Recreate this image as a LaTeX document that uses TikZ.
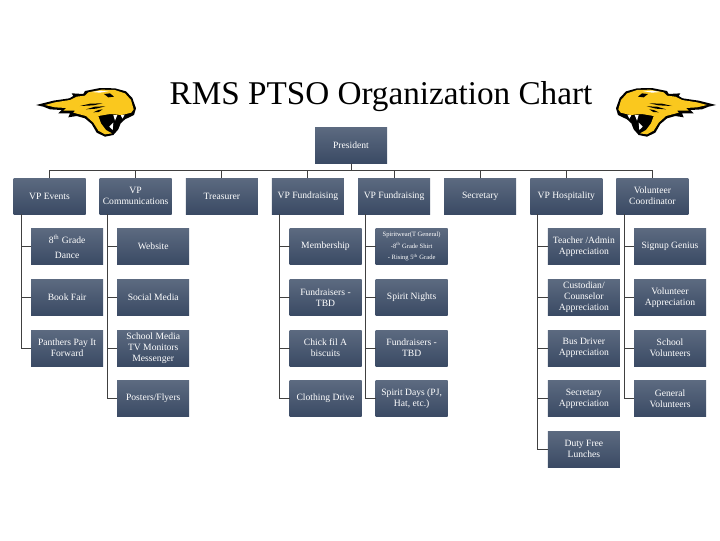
\documentclass[tikz,border=0pt]{standalone}
\usepackage{fontspec}
\setmainfont{Liberation Serif}
\usetikzlibrary{positioning, calc}
\definecolor{boxtop}{RGB}{92,106,128}
\definecolor{boxbottom}{RGB}{58,74,100}
\definecolor{linkdark}{RGB}{64,64,64}
\definecolor{catyellow}{RGB}{250,200,30}

\begin{document}
\begin{tikzpicture}[
    x=0.75pt, y=-0.75pt,
    node distance=11pt and 10.6pt,
    officebox/.style={rectangle, top color=boxtop, bottom color=boxbottom, text=white,
                  inner sep=0pt, outer sep=0pt, minimum height=27pt, minimum width=54pt,
                  align=center, font=\fontsize{7.2}{8.3}\selectfont},
    tinybox/.style={officebox, font=\fontsize{4.9}{8.6}\selectfont},
    link/.style={linkdark, line width=0.75pt},
    catlogo/.pic={
        \begin{scope}[scale=0.3333, line join=round]
            \fill[black] (18,75) -- (70,62) -- (118,55) -- (130,48) -- (125,40) -- (160,42) -- (165,33)
                -- (210,24) -- (255,25) -- (288,34) -- (307,54) -- (318,85) -- (312,105) -- (285,118)
                -- (272,130) -- (265,148) -- (250,165) -- (225,170) -- (200,158) -- (185,132) -- (165,115)
                -- (140,108) -- (115,112) -- (120,100) -- (85,100) -- (95,90) -- (60,88) -- (40,80) -- cycle;
            \fill[catyellow] (45,75) -- (75,67) -- (120,60) -- (140,50) -- (165,47) -- (175,37) -- (215,29)
                -- (255,30) -- (285,40) -- (303,60) -- (311,88) -- (304,98) -- (275,105) -- (240,102)
                -- (205,108) -- (213,130) -- (228,150) -- (246,160) -- (225,163) -- (205,152) -- (190,128)
                -- (168,108) -- (130,98) -- (135,92) -- (100,92) -- (108,84) -- (75,82) -- cycle;
            \fill[white] (185,36) -- (210,32) -- (238,33) -- (210,38) -- cycle;
            \fill[black] (222,42) -- (240,40) -- (252,50) -- (235,52) -- cycle;
            \fill[black] (150,78) -- (180,71) -- (218,70) -- (190,76) -- cycle;
            \fill[black] (168,88) -- (195,80) -- (226,79) -- (198,86) -- cycle;
            \fill[black] (190,97) -- (205,90) -- (218,88) -- (206,96) -- cycle;
            \fill[white] (250,105) -- (262,105) -- (255,122) -- cycle;
            \fill[white] (272,106) -- (284,104) -- (278,116) -- cycle;
            \fill[white] (238,140) -- (250,128) -- (248,150) -- cycle;
        \end{scope}
    },
]
    \useasboundingbox (0,0) rectangle (720,540);

    \node[font=\fontsize{24.9}{28}\selectfont] (title) at (381,97) {RMS PTSO Organization Chart};

    \pic at (30,80) {catlogo};
    \pic[xscale=-1] at (722,80) {catlogo};

    \node[officebox] (president) at (351,145.5) {President};

    % top row
    \node[officebox] (events) at (49.5,196) {VP Events};
    \node[officebox, right=of events] (comms) {VP\\Communications};
    \node[officebox, right=of comms] (treasurer) {Treasurer};
    \node[officebox, right=of treasurer] (fundA) {VP  Fundraising};
    \node[officebox, right=of fundA] (fundB) {VP Fundraising};
    \node[officebox, right=of fundB] (secretary) {Secretary};
    \node[officebox, right=of secretary] (hospitality) {VP Hospitality};
    \node[officebox, right=of hospitality] (volunteer) {Volunteer\\Coordinator};

    % events
    \node[officebox, below=of events, xshift=13.2pt] (dance) {8\textsuperscript{th} Grade\\[3.2pt]Dance};
    \node[officebox, below=of dance] (bookfair) {Book Fair};
    \node[officebox, below=of bookfair] (panthers) {Panthers Pay It\\Forward};

    % communications
    \node[officebox, below=of comms, xshift=13.2pt] (website) {Website};
    \node[officebox, below=of website] (social) {Social Media};
    \node[officebox, below=of social] (monitors) {School Media\\TV Monitors\\Messenger};
    \node[officebox, below=of monitors] (posters) {Posters/Flyers};

    % first fundraising
    \node[officebox, below=of fundA, xshift=13.2pt] (membership) {Membership};
    \node[officebox, below=of membership] (tbdA) {Fundraisers -\\TBD};
    \node[officebox, below=of tbdA] (chick) {Chick fil A\\biscuits};
    \node[officebox, below=of chick] (clothing) {Clothing Drive};

    % second fundraising
    \node[tinybox, below=of fundB, xshift=13.2pt] (spiritwear) {Spiritwear(T  General)\\-8\textsuperscript{th} Grade Shirt\\- Rising 5\textsuperscript{th} Grade};
    \node[officebox, below=of spiritwear] (nights) {Spirit Nights};
    \node[officebox, below=of nights] (tbdB) {Fundraisers -\\TBD};
    \node[officebox, below=of tbdB] (days) {Spirit Days (PJ,\\Hat, etc.)};

    % hospitality
    \node[officebox, below=of hospitality, xshift=13.2pt] (teacher) {Teacher /Admin\\Appreciation};
    \node[officebox, below=of teacher] (custodian) {Custodian/\\Counselor\\Appreciation};
    \node[officebox, below=of custodian] (driver) {Bus Driver\\Appreciation};
    \node[officebox, below=of driver] (secappr) {Secretary\\Appreciation};
    \node[officebox, below=of secappr] (duty) {Duty Free\\Lunches};

    % volunteers
    \node[officebox, below=of volunteer, xshift=13.2pt] (signup) {Signup  Genius};
    \node[officebox, below=of signup] (volappr) {Volunteer\\Appreciation};
    \node[officebox, below=of volappr] (school) {School\\Volunteers};
    \node[officebox, below=of school] (general) {General\\Volunteers};

    \foreach \head in {events, comms, treasurer, fundA, fundB, secretary, hospitality, volunteer}
        \draw[link] (president.south) -- ++(0,6.5) -| (\head.north);

    \foreach \head/\child in {events/dance, events/bookfair, events/panthers,
                              comms/website, comms/social, comms/monitors, comms/posters,
                              fundA/membership, fundA/tbdA, fundA/chick, fundA/clothing,
                              fundB/spiritwear, fundB/nights, fundB/tbdB, fundB/days,
                              hospitality/teacher, hospitality/custodian, hospitality/driver,
                              hospitality/secappr, hospitality/duty,
                              volunteer/signup, volunteer/volappr, volunteer/school, volunteer/general}
        \draw[link] ($(\head.south west)+(7.6,0)$) |- (\child.west);
\end{tikzpicture}
\end{document}
